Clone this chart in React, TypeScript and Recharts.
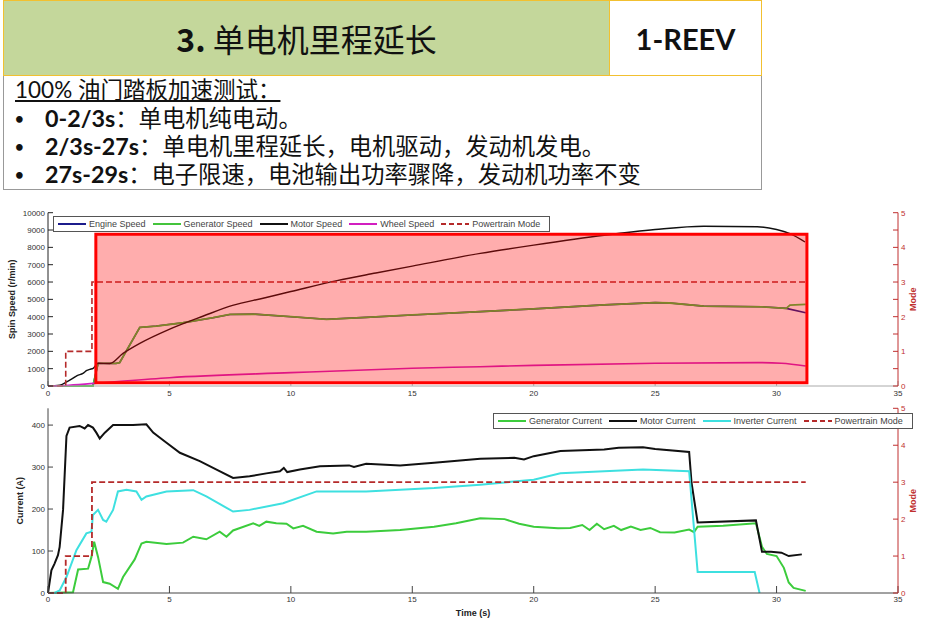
import React from 'react';
import { LineChart, Line, XAxis, YAxis, Legend, ReferenceArea } from 'recharts';

// time (s), value pairs
const engineSpeed = [
  [0, 0], [1.85, 0], [2.06, 1300], [2.8, 1300], [2.95, 1350], [3.78, 3380], [4.46, 3460], [5.56, 3650],
  [6.8, 3940], [7.49, 4130], [8.45, 4150], [10, 4000], [11.47, 3850], [13.1, 3960], [15, 4100], [17.8, 4290],
  [20, 4450], [22.9, 4680], [25, 4810], [25.6, 4790], [27, 4610], [29.4, 4570], [30.4, 4480], [31.2, 4230],
];
const generatorSpeed = [
  [0, 0], [1.85, 0], [2.06, 1300], [2.8, 1300], [2.95, 1350], [3.78, 3380], [4.46, 3460], [5.56, 3650],
  [6.8, 3940], [7.49, 4130], [8.45, 4150], [10, 4000], [11.47, 3850], [13.1, 3960], [15, 4100], [17.8, 4290],
  [20, 4450], [22.9, 4680], [25, 4810], [25.6, 4790], [27, 4610], [29.4, 4570], [30.4, 4480], [30.55, 4670], [31.2, 4710],
];
const motorSpeed = [
  [0, 0], [0.48, 50], [0.75, 220], [1.0, 420], [1.2, 600], [1.44, 730], [1.6, 900], [1.72, 960], [1.86, 1020],
  [2.06, 1310], [2.54, 1300], [3.09, 1880], [3.78, 2460], [4.99, 3270], [6.4, 4040], [7.6, 4650], [8.9, 5080],
  [10, 5450], [11.9, 6080], [13.5, 6520], [15, 6920], [17.8, 7650], [20, 8130], [22.9, 8700], [25, 9030],
  [27, 9220], [29.2, 9190], [30, 9030], [30.55, 8790], [31.17, 8310],
];
const wheelSpeed = [
  [0, 0], [0.7, 30], [1.9, 150], [5, 480], [10, 770], [15, 1020], [17.8, 1115], [20, 1190], [25, 1310],
  [29.2, 1350], [30.2, 1310], [31.2, 1150],
];
const powertrainMode = [[0, 0], [0.73, 1], [1.81, 3], [31.2, 3]];

const generatorCurrent = [
  [0, 0], [1.03, 2], [1.24, 56], [1.65, 58], [1.79, 86], [1.9, 122], [2.06, 86], [2.27, 26], [2.54, 22],
  [2.88, 10], [3.09, 38], [3.57, 80], [3.85, 118], [4.05, 122], [4.88, 117], [5.56, 120], [5.98, 134],
  [6.52, 128], [7.07, 146], [7.35, 134], [7.62, 149], [8.45, 166], [8.7, 160], [8.99, 170], [9.4, 166],
  [9.82, 165], [10.1, 154], [10.5, 160], [11.06, 146], [11.74, 142], [12.3, 146], [13.1, 146], [14.5, 150],
  [15.9, 158], [16.8, 166], [17.8, 178], [18.8, 176], [19.4, 165], [20, 158], [21, 154], [21.5, 155],
  [22, 162], [22.3, 150], [22.6, 165], [22.9, 152], [23.3, 160], [23.6, 150], [24, 158], [24.4, 150],
  [24.8, 155], [25.2, 145], [25.8, 144], [26.4, 151], [26.6, 145], [26.75, 158], [27.8, 160], [29.15, 166],
  [29.4, 110], [29.6, 93], [30.0, 88], [30.3, 60], [30.5, 25], [30.7, 12], [31.2, 5],
];
const motorCurrent = [
  [0, 0], [0.14, 54], [0.27, 70], [0.41, 90], [0.48, 110], [0.62, 198], [0.76, 374], [0.89, 394], [1.3, 398],
  [1.51, 392], [1.65, 400], [1.85, 394], [1.99, 382], [2.13, 368], [2.34, 382], [2.68, 400], [3.5, 400],
  [4.05, 402], [4.33, 382], [4.88, 358], [5.43, 334], [6.25, 314], [6.94, 294], [7.62, 274], [8.3, 278],
  [8.99, 285], [9.55, 290], [9.71, 298], [9.85, 288], [10.37, 294], [11.2, 302], [12.4, 304], [12.6, 300],
  [13.1, 308], [14.5, 304], [15.9, 310], [17.8, 320], [19.2, 322], [19.6, 318], [20, 326], [21.1, 338],
  [22.9, 342], [23.5, 346], [24.5, 347], [25, 343], [26.4, 336], [26.5, 262], [26.75, 168], [29.15, 173],
  [29.4, 98], [29.77, 98], [30.2, 96], [30.5, 88], [31.04, 92],
];
const inverterCurrent = [
  [0, 0], [0.27, 0], [0.48, 6], [0.76, 38], [1.17, 102], [1.58, 142], [1.79, 146], [1.85, 186], [2.06, 198],
  [2.27, 174], [2.4, 170], [2.68, 198], [2.88, 242], [3.23, 246], [3.64, 242], [3.85, 222], [4.05, 230],
  [4.88, 242], [5.98, 245], [6.52, 230], [7.62, 194], [8.3, 198], [9.68, 214], [11.06, 242], [13.1, 242],
  [14.5, 246], [15.9, 250], [17.8, 258], [20, 270], [21.1, 285], [22.9, 290], [24.5, 294], [26.4, 290],
  [26.5, 222], [26.75, 50], [29.1, 50], [29.3, 0],
];

const timeTicks = [0, 5, 10, 15, 20, 25, 30, 35];
const speedTicks = [0, 1000, 2000, 3000, 4000, 5000, 6000, 7000, 8000, 9000, 10000];
const currentTicks = [0, 100, 200, 300, 400];
const modeTicksTop = [0, 0.5, 1, 1.5, 2, 2.5, 3, 3.5, 4, 4.5, 5];
const modeTicksBottom = [0, 1, 2, 3, 4, 5];
// highlighted region: time 1.97..31.25 s, speed 190..8750 r/min
const highlight = { x1: 1.97, x2: 31.25, y1: 190, y2: 8750 };

const bulletLines = [
  ['0-2/3s', '：单电机纯电动。'],
  ['2/3s-27s', '：单电机里程延长，电机驱动，发动机发电。'],
  ['27s-29s', '：电子限速，电池输出功率骤降，发动机功率不变'],
];

const toPts = (arr: number[][]) => arr.map(([t, v]) => ({ t, v }));

const tickFont = { fontSize: 8, fill: '#333', fontFamily: "'Liberation Sans Narrow', 'Liberation Sans', Arial" };
const modeTickFont = { ...tickFont, fill: '#c03030' };
const labelFont = { fontSize: 9, fontWeight: 'bold', fontFamily: "'Liberation Sans', Arial" } as const;

type LegendItem = { name: string; color: string; dash?: string };

const LegendBox = ({ items }: { items: LegendItem[] }) => (
  <div style={{ display: 'flex', alignItems: 'center', border: '1px solid #555', background: '#fff', padding: '2px 3px', fontFamily: "'Liberation Sans', Arial", fontSize: 9, color: '#444', whiteSpace: 'nowrap' }}>
    {items.map((it) => (
      <div key={it.name} style={{ display: 'flex', alignItems: 'center', marginRight: 6 }}>
        <svg width={30} height={8} style={{ marginRight: 2 }}>
          <line x1={1} y1={4} x2={29} y2={4} stroke={it.color} strokeWidth={2} strokeDasharray={it.dash} />
        </svg>
        <span>{it.name}</span>
      </div>
    ))}
  </div>
);

const topLegend: LegendItem[] = [
  { name: 'Engine Speed', color: '#1c1c8c' },
  { name: 'Generator Speed', color: '#44c43c' },
  { name: 'Motor Speed', color: '#111' },
  { name: 'Wheel Speed', color: '#d21fc0' },
  { name: 'Powertrain Mode', color: '#b52a2a', dash: '5 3' },
];
const bottomLegend: LegendItem[] = [
  { name: 'Generator Current', color: '#3ccc3c' },
  { name: 'Motor Current', color: '#111' },
  { name: 'Inverter Current', color: '#3ee0e0' },
  { name: 'Powertrain Mode', color: '#b52a2a', dash: '5 3' },
];

const modeLabel = { value: 'Mode', angle: -90, position: 'insideLeft' as const, offset: 15, style: { textAnchor: 'middle' as const }, fill: '#c03030', ...labelFont };

const cjk = "'Noto Sans CJK SC'";
// Lato first keeps the line boxes compact; CJK glyphs fall back to Noto
const bodyFont = "Lato, 'Noto Sans CJK SC'";

const Header = () => (
  <>
    <div style={{ position: 'absolute', left: 3, top: 0, width: 607, height: 76, boxSizing: 'border-box', background: '#c4d79b', border: '1px solid #f2c030', display: 'flex', alignItems: 'center', justifyContent: 'center', fontFamily: cjk, fontSize: 32, color: '#111' }}>
      <span style={{ fontWeight: 'bold' }}>3.</span>&nbsp;单电机里程延长
    </div>
    <div style={{ position: 'absolute', left: 610, top: 0, width: 152, height: 76, boxSizing: 'border-box', background: '#fff', border: '1px solid #f2c030', borderLeft: 'none', display: 'flex', alignItems: 'center', justifyContent: 'center', fontFamily: 'Lato', fontWeight: 'bold', fontSize: 29, color: '#111' }}>
      1-REEV
    </div>
    <div style={{ position: 'absolute', left: 3, top: 76, width: 759, height: 114, boxSizing: 'border-box', border: '1px solid #999', borderTop: 'none' }} />
    <div style={{ position: 'absolute', left: 15, top: 78, height: 24, lineHeight: '24px', fontFamily: bodyFont, fontSize: 22.5, color: '#111', whiteSpace: 'nowrap', textDecoration: 'underline' }}>
      100% 油门踏板加速测试：
    </div>
    {bulletLines.map(([head, rest], i) => (
      <React.Fragment key={head}>
        <div style={{ position: 'absolute', left: 15, top: 106 + i * 28, height: 24, lineHeight: '24px', fontFamily: 'Lato', fontWeight: 'bold', fontSize: 15, color: '#111' }}>•</div>
        <div style={{ position: 'absolute', left: 45, top: 106 + i * 28, height: 24, lineHeight: '24px', fontFamily: bodyFont, fontSize: 23.3, color: '#111', whiteSpace: 'nowrap' }}>
          <b>{head}</b>{rest}
        </div>
      </React.Fragment>
    ))}
  </>
);

export default function App() {
  return (
    <div style={{ position: 'absolute', left: 0, top: 0, width: 946, height: 628, background: '#fff', overflow: 'hidden' }}>
      <Header />
      <div style={{ position: 'absolute', left: 0, top: 190 }}>
        <LineChart width={946} height={216} margin={{ top: 22.7, right: 0, bottom: 0, left: 0 }}>
          <XAxis xAxisId="b" dataKey="t" type="number" domain={[0, 35]} ticks={timeTicks} allowDataOverflow
            tick={tickFont} tickSize={-5} tickMargin={9} height={20} stroke="#aaa" />
          <XAxis xAxisId="top" orientation="top" dataKey="t" type="number" domain={[0, 35]} ticks={timeTicks} height={0}
            tickFormatter={() => ''} tickSize={-5} stroke="#222"
            label={{ value: 'Volt Powertrain 4 Mode Operations - 100%AccPedal Normal D in CS Phase', position: 'top', offset: 7, fill: '#111', fontSize: 10.5, fontWeight: 'bold', fontFamily: "'Liberation Sans', Arial" }} />
          <YAxis yAxisId="l" domain={[0, 10000]} ticks={speedTicks} width={48} tick={tickFont} tickSize={-5} tickMargin={8} stroke="#222"
            label={{ value: 'Spin Speed (r/min)', angle: -90, position: 'insideLeft', offset: 12, style: { textAnchor: 'middle' }, fill: '#222', ...labelFont }} />
          <YAxis yAxisId="r" orientation="right" domain={[0, 5]} ticks={modeTicksTop} width={48} tick={modeTickFont}
            tickFormatter={(v: number) => (Number.isInteger(v) ? String(v) : '')} tickSize={-5} tickMargin={8} stroke="#c03030" label={modeLabel} />
          <Legend verticalAlign="middle" align="center" layout="horizontal" wrapperStyle={{ left: 53, top: 26, width: 'auto' }}
            content={() => <LegendBox items={topLegend} />} />
          <Line xAxisId="b" yAxisId="l" data={toPts(engineSpeed)} dataKey="v" name="Engine Speed" stroke="#1c1c8c" strokeWidth={1.6} dot={false} isAnimationActive={false} />
          <Line xAxisId="b" yAxisId="l" data={toPts(generatorSpeed)} dataKey="v" name="Generator Speed" stroke="#44c43c" strokeWidth={1.8} dot={false} isAnimationActive={false} />
          <Line xAxisId="b" yAxisId="l" data={toPts(motorSpeed)} dataKey="v" name="Motor Speed" type="monotone" stroke="#111" strokeWidth={1.4} dot={false} isAnimationActive={false} />
          <Line xAxisId="b" yAxisId="l" data={toPts(wheelSpeed)} dataKey="v" name="Wheel Speed" type="monotone" stroke="#d21fc0" strokeWidth={1.6} dot={false} isAnimationActive={false} />
          <Line xAxisId="b" yAxisId="r" data={toPts(powertrainMode)} dataKey="v" name="Powertrain Mode" type="stepAfter" stroke="#b52a2a" strokeWidth={1.6} strokeDasharray="6 3" dot={false} isAnimationActive={false} />
          <ReferenceArea xAxisId="b" yAxisId="l" x1={highlight.x1} x2={highlight.x2} y1={highlight.y1} y2={highlight.y2}
            fill="#ff0000" fillOpacity={0.32} stroke="#ff0000" strokeWidth={3} strokeOpacity={1} ifOverflow="visible" zIndex={1000} />
        </LineChart>
      </div>
      <div style={{ position: 'absolute', left: 0, top: 400 }}>
        <LineChart width={946} height={221} margin={{ top: 8.3, right: 0, bottom: 0, left: 0 }}>
          <XAxis xAxisId="b" dataKey="t" type="number" domain={[0, 35]} ticks={timeTicks} tick={tickFont} tickSize={-7} tickMargin={10} height={28} stroke="#444"
            label={{ value: 'Time (s)', position: 'insideBottom', offset: 5, fill: '#222', ...labelFont }} />
          <XAxis xAxisId="top" orientation="top" dataKey="t" type="number" domain={[0, 35]} ticks={timeTicks} height={0}
            tickFormatter={() => ''} tickSize={-7} stroke="#555" />
          <YAxis yAxisId="l" domain={[0, 440]} ticks={currentTicks} width={48} tick={tickFont} tickSize={-5} tickMargin={8} stroke="#444"
            label={{ value: 'Current (A)', angle: -90, position: 'insideLeft', offset: 20, style: { textAnchor: 'middle' }, fill: '#222', ...labelFont }} />
          <YAxis yAxisId="r" orientation="right" domain={[0, 5]} ticks={modeTicksBottom} width={48} tick={modeTickFont} tickSize={-5} tickMargin={8} stroke="#c03030" label={modeLabel} />
          <Legend verticalAlign="middle" align="center" layout="horizontal" wrapperStyle={{ left: 493, top: 13, width: 'auto' }}
            content={() => <LegendBox items={bottomLegend} />} />
          <Line xAxisId="b" yAxisId="l" data={toPts(generatorCurrent)} dataKey="v" name="Generator Current" stroke="#3ccc3c" strokeWidth={2} dot={false} isAnimationActive={false} />
          <Line xAxisId="b" yAxisId="l" data={toPts(motorCurrent)} dataKey="v" name="Motor Current" stroke="#111" strokeWidth={2} dot={false} isAnimationActive={false} />
          <Line xAxisId="b" yAxisId="l" data={toPts(inverterCurrent)} dataKey="v" name="Inverter Current" stroke="#3ee0e0" strokeWidth={2} dot={false} isAnimationActive={false} />
          <Line xAxisId="b" yAxisId="r" data={toPts(powertrainMode)} dataKey="v" name="Powertrain Mode" type="stepAfter" stroke="#b52a2a" strokeWidth={1.8} strokeDasharray="6 3" dot={false} isAnimationActive={false} />
        </LineChart>
      </div>
    </div>
  );
}
